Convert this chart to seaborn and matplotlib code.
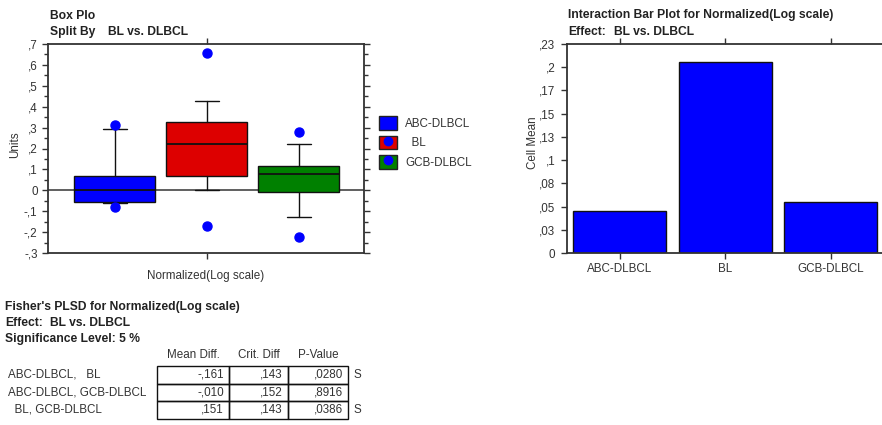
import numpy as np
import matplotlib
matplotlib.use("Agg")
import matplotlib.pyplot as plt
import seaborn as sns
from matplotlib.patches import Patch, Rectangle
from matplotlib.lines import Line2D
from matplotlib.ticker import MultipleLocator

# ---- data -------------------------------------------------------------
groups = ["ABC-DLBCL", "BL", "GCB-DLBCL"]
legend_labels = ["ABC-DLBCL", "  BL", "GCB-DLBCL"]
group_colors = ["#0000FF", "#DD0000", "#008000"]

# box summaries, Normalized (log scale)
box_q1 = [-0.055, 0.068, -0.006]
box_med = [0.002, 0.222, 0.079]
box_q3 = [0.068, 0.325, 0.116]
whisker_lo = [-0.062, 0.0, -0.127]
whisker_hi = [0.294, 0.425, 0.222]
outlier_lo = [-0.081, -0.173, -0.225]
outlier_hi = [0.314, 0.656, 0.281]

# cell means for the interaction bar plot
cell_means = [0.045, 0.206, 0.055]
bar_ticks = [0, 0.025, 0.05, 0.075, 0.1, 0.125, 0.15, 0.175, 0.2, 0.225]
bar_tick_labels = ["0", ",03", ",05", ",08", ",1", ",13", ",15", ",17", ",2", ",23"]
box_ticks = [-0.3, -0.2, -0.1, 0, 0.1, 0.2, 0.3, 0.4, 0.5, 0.6, 0.7]
box_tick_labels = ["-,3", "-,2", "-,1", "0", ",1", ",2", ",3", ",4", ",5", ",6", ",7"]

# Fisher's PLSD table
pair_labels = ["ABC-DLBCL,   BL", "ABC-DLBCL, GCB-DLBCL", "  BL, GCB-DLBCL"]
mean_diff = [-0.161, -0.010, 0.151]
crit_diff = [0.143, 0.152, 0.143]
p_values = [0.0280, 0.8916, 0.0386]
significant = ["S", "", "S"]


def comma(v, nd):
    """Format a value the European way without the leading zero."""
    return f"{v:.{nd}f}".replace("0.", ".", 1).replace(".", ",")


# ---- style ------------------------------------------------------------
sns.set_theme(style="white")
plt.rcParams["font.family"] = ["Liberation Sans", "DejaVu Sans"]
FS = 8.4
plt.rcParams["font.size"] = FS
TXT = "#333333"
SP = "#333333"

W, H = 882, 425
fig = plt.figure(figsize=(W / 100, H / 100), dpi=100)
fig.patch.set_facecolor("white")


def px_axes(l, t, r, b):
    return fig.add_axes([l / W, 1 - b / H, (r - l) / W, (b - t) / H])


def style_spines(ax, right=True):
    for sp in ax.spines.values():
        sp.set_color(SP)
        sp.set_linewidth(1.3)
        sp.set_visible(True)
    if not right:
        ax.spines["right"].set_visible(False)


# ---- box plot ---------------------------------------------------------
ax1 = px_axes(48, 44, 364, 253)
stats = []
for i in range(3):
    stats.append(dict(med=box_med[i], q1=box_q1[i], q3=box_q3[i],
                      whislo=whisker_lo[i], whishi=whisker_hi[i],
                      fliers=[outlier_lo[i], outlier_hi[i]]))
ax1.axhline(0, color="#444444", lw=1.2, zorder=1)
bp = ax1.bxp(stats, positions=[0, 1, 2], widths=0.88, capwidths=0.26,
             patch_artist=True, showfliers=True,
             boxprops=dict(edgecolor="#111111", linewidth=1.0),
             medianprops=dict(color="#111111", linewidth=1.3),
             whiskerprops=dict(color="#111111", linewidth=1.0),
             capprops=dict(color="#111111", linewidth=1.0),
             flierprops=dict(marker="o", markerfacecolor="#0000FF",
                             markeredgecolor="#0000FF", markersize=6.5))
for patch, c in zip(bp["boxes"], group_colors):
    patch.set_facecolor(c)
    patch.set_zorder(2)
ax1.set_xlim(-0.728, 2.707)
ax1.set_ylim(-0.3, 0.7)
ax1.set_yticks(box_ticks)
ax1.set_yticklabels(box_tick_labels, color=TXT)
ax1.yaxis.set_minor_locator(MultipleLocator(0.05))
ax1.set_xticks([1])
ax1.set_xticklabels([""])
ax1.tick_params(axis="x", top=True, bottom=True, direction="out", length=4,
                width=1, color=SP)
ax1.tick_params(axis="y", which="major", left=True, right=True, direction="out",
                length=4.5, width=1, color=SP, pad=3, labelsize=FS)
ax1.tick_params(axis="y", which="minor", left=True, right=True, direction="out",
                length=3, width=1, color=SP)
ax1.set_xlabel("Normalized(Log scale)", color=TXT, fontsize=FS, labelpad=5)
ax1.set_ylabel("")
ax1.grid(False)
style_spines(ax1)

# legend with the outlier dot drawn inside the red and green keys
handles = []
for i, c in enumerate(group_colors):
    sq = Patch(facecolor=c, edgecolor="#222222", linewidth=1.0)
    if i == 0:
        handles.append(sq)
    else:
        dot = Line2D([], [], marker="o", linestyle="none", markersize=6,
                     markerfacecolor="#0000FF", markeredgecolor="#0000FF")
        handles.append((sq, dot))
fig.legend(handles, legend_labels, loc="upper left",
           bbox_to_anchor=(379 / W, 1 - 116 / H), frameon=False,
           handlelength=1.5, handleheight=1.42, handletextpad=0.75,
           labelspacing=0.5, borderpad=0, borderaxespad=0, fontsize=FS,
           labelcolor=TXT)

# ---- interaction bar plot -------------------------------------------
ax2 = px_axes(567, 44, 883.5, 253)
sns.barplot(x=groups, y=cell_means, ax=ax2, color="#0000FF", saturation=1,
            edgecolor="#111111", linewidth=1.0, width=0.88)
ax2.set_xlim(-0.5, 2.5)
ax2.set_ylim(0, 0.225)
ax2.set_yticks(bar_ticks)
ax2.set_yticklabels(bar_tick_labels, color=TXT)
ax2.tick_params(axis="x", top=True, bottom=True, direction="out", length=4,
                width=1, color=SP, pad=3, labelsize=FS, labelcolor=TXT)
ax2.tick_params(axis="y", left=True, direction="out", length=4.5, width=1,
                color=SP, pad=4, labelsize=FS)
ax2.set_xlabel("")
ax2.set_ylabel("")
ax2.grid(False)
style_spines(ax2, right=False)

# ---- text layer (titles, axis names, PLSD table) ---------------------
ov = fig.add_axes([0, 0, 1, 1], zorder=-5)
ov.set_xlim(0, W)
ov.set_ylim(H, 0)
ov.axis("off")
bold = dict(fontweight="bold", fontsize=8.7, color="#222222", va="center")
reg = dict(fontsize=FS, color=TXT, va="center")

ov.text(50, 16, "Box Plo", **bold)
ov.text(50, 32, "Split By", **bold)
ov.text(108, 32, "BL vs. DLBCL", **bold)
ov.text(15, 145, "Units", rotation=90, ha="center", **reg)

ov.text(568, 15, "Interaction Bar Plot for Normalized(Log scale)", **bold)
ov.text(568, 32, "Effect:", **bold)
ov.text(614, 32, "BL vs. DLBCL", **bold)
ov.text(533, 143, "Cell Mean", rotation=90, ha="center", **reg)

ov.text(5, 307, "Fisher's PLSD for Normalized(Log scale)", **bold)
ov.text(5, 323, "Effect:", **bold)
ov.text(50, 323, "BL vs. DLBCL", **bold)
ov.text(5, 339, "Significance Level: 5 %", **bold)

col_edges = [157, 229, 288, 348]
headers = ["Mean Diff.", "Crit. Diff", "P-Value"]
for j, h in enumerate(headers):
    ov.text((col_edges[j] + col_edges[j + 1]) / 2, 355, h, ha="center", **reg)

row_top, row_h = 366, 17.5
for i in range(3):
    yt = row_top + i * row_h
    yc = yt + row_h / 2
    ov.text(8, yc, pair_labels[i], ha="left", **reg)
    cells = [comma(mean_diff[i], 3), comma(crit_diff[i], 3), comma(p_values[i], 4)]
    for j, s in enumerate(cells):
        ov.add_patch(Rectangle((col_edges[j], yt), col_edges[j + 1] - col_edges[j],
                               row_h, fill=False, edgecolor="#111111", lw=1.0))
        ov.text(col_edges[j + 1] - 5, yc, s, ha="right", **reg)
    ov.text(354, yc, significant[i], ha="left", **reg)

fig.savefig("out.png", dpi=100, facecolor="white")
